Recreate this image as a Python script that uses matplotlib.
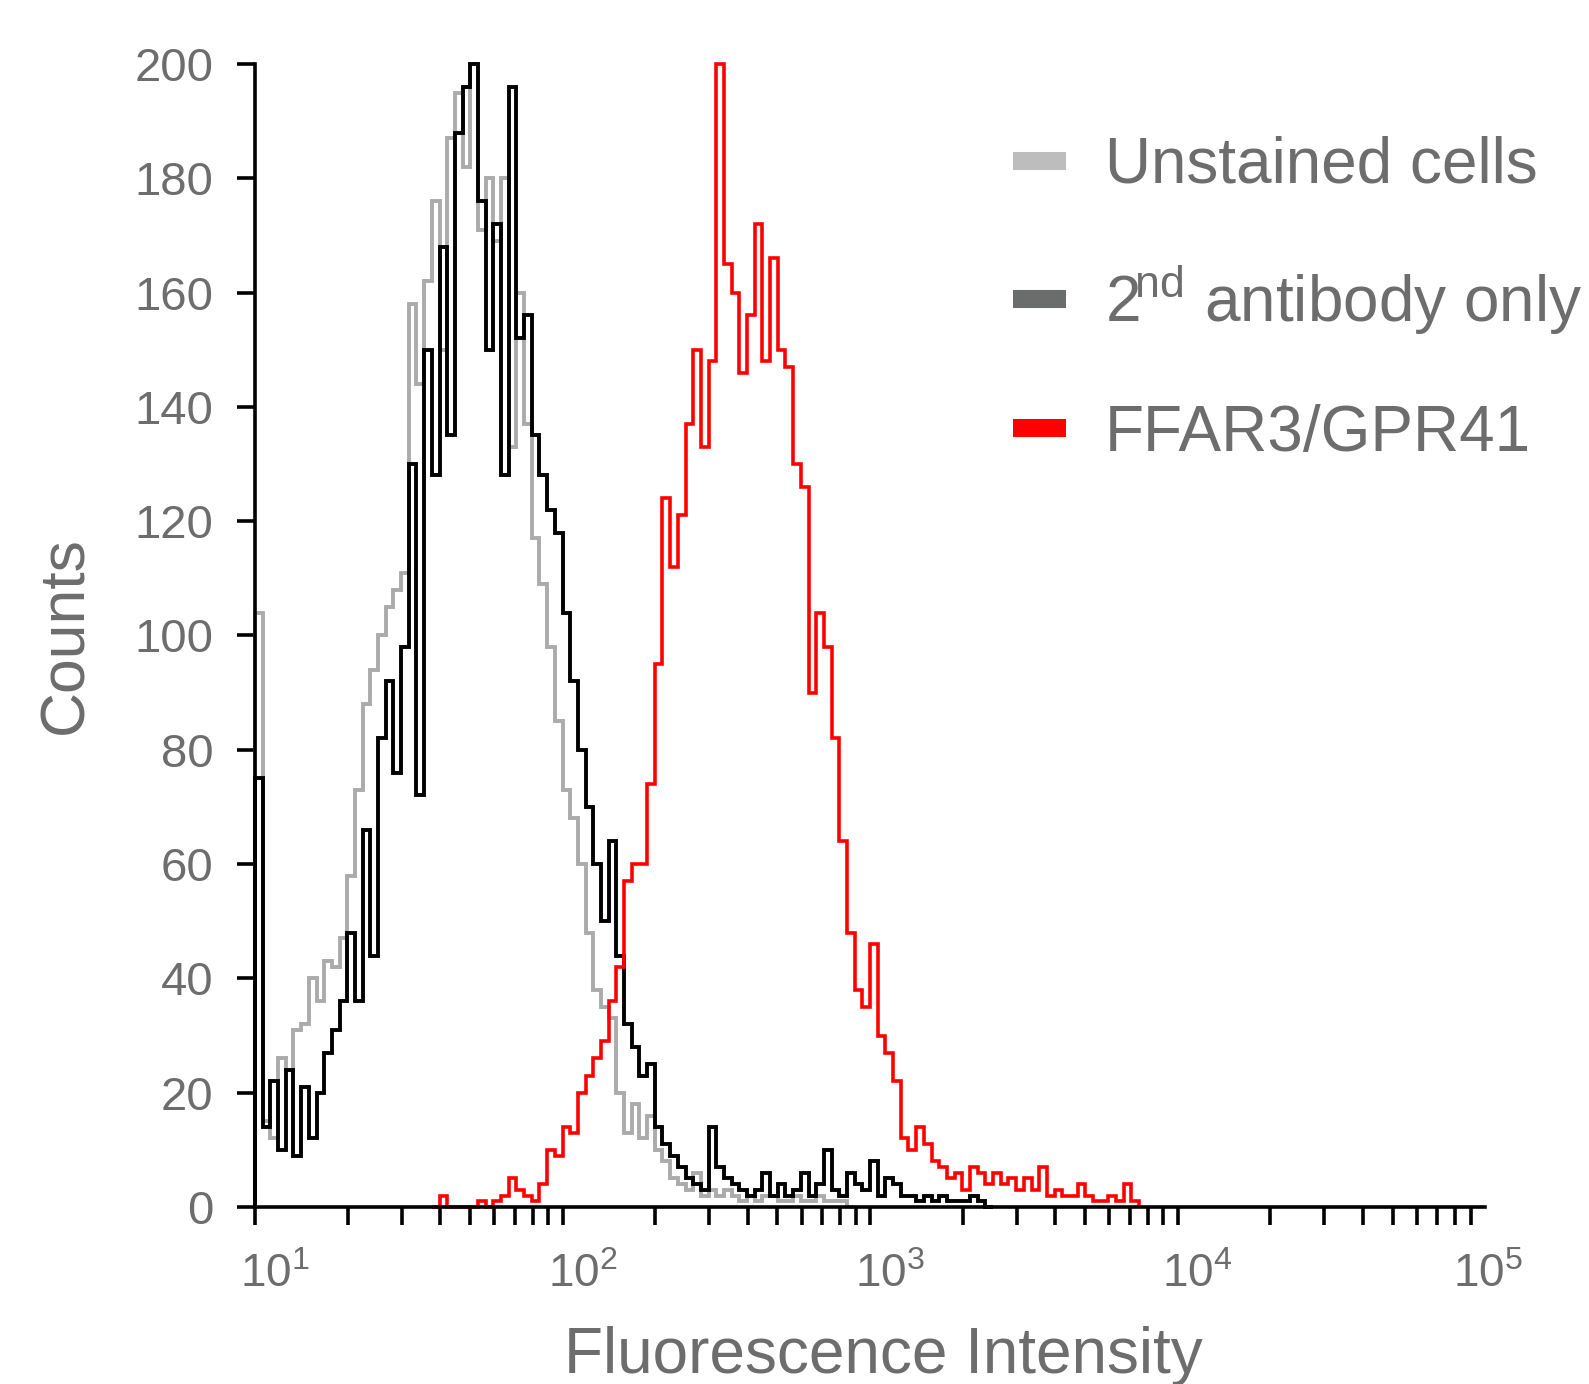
import numpy as np
import matplotlib.pyplot as plt
from matplotlib.lines import Line2D
from matplotlib.ticker import LogLocator, NullFormatter
import matplotlib.transforms as mtransforms

plt.rcParams['font.family'] = ['Liberation Sans', 'DejaVu Sans']
plt.rcParams['mathtext.fontset'] = 'custom'
plt.rcParams['mathtext.rm'] = 'Liberation Sans'
plt.rcParams['mathtext.it'] = 'Liberation Sans:italic'
plt.rcParams['mathtext.bf'] = 'Liberation Sans:bold'

TXT = '#6d6d6d'
CH_PER_DECADE = 40  # log channels per decade, first channel starts at 10

# counts per channel
unstained = [104, 15, 12, 26, 24, 31, 32, 40, 36, 43,
             42, 47, 58, 73, 88, 94, 100, 105, 108, 111,
             158, 144, 162, 176, 150, 187, 195, 182, 200, 171,
             180, 169, 180, 133, 160, 137, 117, 109, 98, 85,
             73, 68, 60, 48, 38, 35, 33, 20, 13, 18,
             12, 16, 10, 8, 5, 4, 3, 6, 2, 3,
             2, 3, 2, 1, 2, 1, 2, 2, 1, 1,
             2, 1, 1, 2, 1, 1, 1, 0]
second_ab = [75, 14, 22, 10, 24, 9, 21, 12, 20, 27,
             31, 36, 48, 36, 66, 44, 82, 92, 76, 98,
             130, 72, 150, 128, 168, 135, 188, 196, 200, 176,
             150, 172, 128, 196, 152, 156, 135, 128, 122, 118,
             104, 92, 80, 70, 60, 50, 64, 44, 32, 28,
             23, 25, 14, 11, 9, 7, 5, 4, 3, 14,
             7, 5, 4, 3, 2, 3, 6, 2, 4, 2,
             3, 6, 2, 4, 10, 3, 2, 6, 4, 3,
             8, 2, 5, 4, 2, 2, 1, 2, 1, 2,
             1, 1, 1, 2, 1, 0]
ffar3_start = 23
ffar3 = [0, 2, 0, 0, 0, 0, 1, 0, 1, 2,
         5, 3, 2, 1, 4, 10, 9, 14, 13, 20,
         23, 26, 29, 36, 42, 57, 60, 60, 74, 95,
         124, 112, 121, 137, 150, 133, 148, 200, 165, 160,
         146, 156, 172, 148, 166, 150, 147, 130, 126, 90,
         104, 98, 82, 64, 48, 38, 35, 46, 30, 27,
         22, 12, 10, 14, 11, 8, 7, 5, 6, 3,
         7, 6, 4, 6, 4, 5, 3, 5, 3, 7,
         2, 3, 2, 2, 4, 2, 1, 1, 2, 1,
         4, 1]

labels = ['Unstained cells', r'2$^{\!\mathrm{nd}}$ antibody only', 'FFAR3/GPR41']
legend_colors = ['#bdbdbd', '#6b6d6d', '#ff0000']
yticks = list(range(0, 201, 20))
xticks = [1e1, 1e2, 1e3, 1e4, 1e5]
xticklabels = [r'$10^{1}$', r'$10^{2}$', r'$10^{3}$', r'$10^{4}$', r'$10^{5}$']


def channel_edges(start, n):
  return 10 ** (1 + np.arange(start, start + n + 1) / CH_PER_DECADE)


fig = plt.figure(figsize=(15.89, 13.84), dpi=100)
ax = fig.add_axes([0.1605, 0.1279, 0.7741, 0.8259])

ax.stairs(unstained, channel_edges(0, len(unstained)), baseline=0,
          color='#ababab', lw=2.8, clip_on=False, zorder=2)
ax.stairs(second_ab, channel_edges(0, len(second_ab)), baseline=0,
          color='black', lw=2.8, clip_on=False, zorder=3)
ax.stairs(ffar3, channel_edges(ffar3_start, len(ffar3)), baseline=0,
          color='#ff0000', lw=2.6, clip_on=False, zorder=4)

ax.set_xscale('log')
ax.set_xlim(10, 1e5)
ax.set_ylim(0, 200)

for s in ['top', 'right']:
  ax.spines[s].set_visible(False)
for s in ['left', 'bottom']:
  ax.spines[s].set_linewidth(2.6)
  ax.spines[s].set_zorder(6)

ax.set_yticks(yticks)
ax.set_xticks(xticks, labels=xticklabels)
ax.xaxis.set_minor_locator(LogLocator(base=10, subs=np.arange(2, 10)))
ax.xaxis.set_minor_formatter(NullFormatter())
ax.tick_params(axis='both', which='both', direction='out', length=13, width=2.6,
               color='black', labelcolor=TXT)
ax.tick_params(axis='y', pad=17, labelsize=34)
ax.tick_params(axis='x', pad=20, labelsize=33)
ax.xaxis.get_major_ticks()[-1].tick1line.set_visible(False)

# labels sit a bit right of their ticks in the original
for k, lab in enumerate(ax.get_xticklabels()):
  dx = 0.03 if k == len(xticks) - 1 else 0.2
  lab.set_transform(lab.get_transform() + mtransforms.ScaledTranslation(dx, 0, fig.dpi_scale_trans))

ax.set_xlabel('Fluorescence Intensity', fontsize=46, color=TXT, labelpad=21)
ax.xaxis.label.set_x(0.511)
ax.set_ylabel('Counts', fontsize=45, color=TXT, labelpad=28)

handles = [Line2D([], [], color=c, lw=13, solid_capstyle='butt') for c in legend_colors]
ax.legend(handles, labels, loc='upper left', bbox_to_anchor=(0.616, 0.937),
          frameon=False, fontsize=46, handlelength=0.84, handletextpad=0.6,
          labelspacing=1.05, labelcolor=TXT, borderaxespad=0, borderpad=0)

fig.savefig('out.png', dpi=100)
